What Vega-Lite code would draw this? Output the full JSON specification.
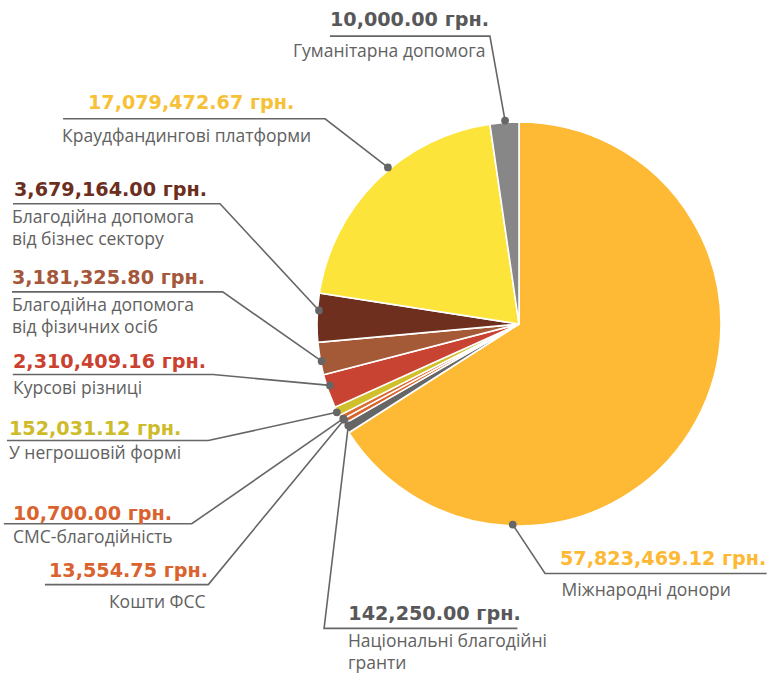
{
  "$schema": "https://vega.github.io/schema/vega-lite/v6.json",
  "width": 404,
  "height": 404,
  "autosize": {"type": "none"},
  "padding": {"left": 317, "top": 122, "right": 48, "bottom": 147},
  "background": "white",
  "config": {"view": {"stroke": null}},
  "datasets": {
    "slices": [
      {"name": "Міжнародні донори", "share": 65.95, "idx": 1},
      {"name": "Національні благодійні гранти", "share": 0.8, "idx": 2},
      {"name": "Кошти ФСС", "share": 0.38, "idx": 3},
      {"name": "СМС-благодійність", "share": 0.38, "idx": 4},
      {"name": "У негрошовій формі", "share": 0.74, "idx": 5},
      {"name": "Курсові різниці", "share": 2.70, "idx": 6},
      {"name": "Благодійна допомога від фізичних осіб", "share": 2.60, "idx": 7},
      {"name": "Благодійна допомога від бізнес сектору", "share": 3.90, "idx": 8},
      {"name": "Краудфандингові платформи", "share": 20.25, "idx": 9},
      {"name": "Гуманітарна допомога", "share": 2.30, "idx": 10}
    ],
    "callouts": [
      {"name": "Гуманітарна допомога", "amount": "10,000.00 грн.", "category": "Гуманітарна допомога", "vx": -0.936, "vy": 1.473, "cx": -1.119, "cy": 1.322},
      {"name": "Краудфандингові платформи", "amount": "17,079,472.67 грн.", "category": "Краудфандингові платформи", "vx": -2.134, "vy": 1.062, "cx": -2.262, "cy": 0.901},
      {"name": "Благодійна допомога від бізнес сектору", "amount": "3,679,164.00 грн.", "category": "Благодійна допомога\nвід бізнес сектору", "vx": -2.5, "vy": 0.633, "cx": -2.51, "cy": 0.498},
      {"name": "Благодійна допомога від фізичних осіб", "amount": "3,181,325.80 грн.", "category": "Благодійна допомога\nвід фізичних осіб", "vx": -2.51, "vy": 0.196, "cx": -2.51, "cy": 0.063},
      {"name": "Курсові різниці", "amount": "2,310,409.16 грн.", "category": "Курсові різниці", "vx": -2.505, "vy": -0.22, "cx": -2.505, "cy": -0.349},
      {"name": "У негрошовій формі", "amount": "152,031.12 грн.", "category": "У негрошовій формі", "vx": -2.525, "vy": -0.55, "cx": -2.525, "cy": -0.666},
      {"name": "СМС-благодійність", "amount": "10,700.00 грн.", "category": "СМС-благодійність", "vx": -2.505, "vy": -0.968, "cx": -2.505, "cy": -1.083},
      {"name": "Кошти ФСС", "amount": "13,554.75 грн.", "category": "Кошти ФСС", "vx": -2.327, "vy": -1.25, "cx": -2.03, "cy": -1.405},
      {"name": "Національні благодійні гранти", "amount": "142,250.00 грн.", "category": "Національні благодійні\nгранти", "vx": -0.845, "vy": -1.466, "cx": -0.847, "cy": -1.601},
      {"name": "Міжнародні донори", "amount": "57,823,469.12 грн.", "category": "Міжнародні донори", "vx": 0.203, "vy": -1.191, "cx": 0.211, "cy": -1.348}
    ],
    "leaders": [
      {"name": "Гуманітарна допомога", "seq": 1, "u": -0.936, "v": 1.425},
      {"name": "Гуманітарна допомога", "seq": 2, "u": -0.144, "v": 1.425},
      {"name": "Гуманітарна допомога", "seq": 3, "u": -0.069, "v": 1.007},
      {"name": "Краудфандингові платформи", "seq": 1, "u": -2.257, "v": 1.016},
      {"name": "Краудфандингові платформи", "seq": 2, "u": -0.96, "v": 1.016},
      {"name": "Краудфандингові платформи", "seq": 3, "u": -0.649, "v": 0.775},
      {"name": "Благодійна допомога від бізнес сектору", "seq": 1, "u": -2.505, "v": 0.595},
      {"name": "Благодійна допомога від бізнес сектору", "seq": 2, "u": -1.48, "v": 0.595},
      {"name": "Благодійна допомога від бізнес сектору", "seq": 3, "u": -0.99, "v": 0.067},
      {"name": "Благодійна допомога від фізичних осіб", "seq": 1, "u": -2.51, "v": 0.159},
      {"name": "Благодійна допомога від фізичних осіб", "seq": 2, "u": -1.467, "v": 0.159},
      {"name": "Благодійна допомога від фізичних осіб", "seq": 3, "u": -0.977, "v": -0.184},
      {"name": "Курсові різниці", "seq": 1, "u": -2.506, "v": -0.25},
      {"name": "Курсові різниці", "seq": 2, "u": -1.515, "v": -0.25},
      {"name": "Курсові різниці", "seq": 3, "u": -0.936, "v": -0.304},
      {"name": "У негрошовій формі", "seq": 1, "u": -2.535, "v": -0.577},
      {"name": "У негрошовій формі", "seq": 2, "u": -1.538, "v": -0.577},
      {"name": "У негрошовій формі", "seq": 3, "u": -0.902, "v": -0.437},
      {"name": "СМС-благодійність", "seq": 1, "u": -2.55, "v": -0.989},
      {"name": "СМС-благодійність", "seq": 2, "u": -1.62, "v": -0.989},
      {"name": "СМС-благодійність", "seq": 3, "u": -0.87, "v": -0.468},
      {"name": "Кошти ФСС", "seq": 1, "u": -2.347, "v": -1.29},
      {"name": "Кошти ФСС", "seq": 2, "u": -1.538, "v": -1.29},
      {"name": "Кошти ФСС", "seq": 3, "u": -0.866, "v": -0.474},
      {"name": "Національні благодійні гранти", "seq": 1, "u": -0.008, "v": -1.507},
      {"name": "Національні благодійні гранти", "seq": 2, "u": -0.965, "v": -1.507},
      {"name": "Національні благодійні гранти", "seq": 3, "u": -0.845, "v": -0.502},
      {"name": "Міжнародні донори", "seq": 1, "u": 1.226, "v": -1.235},
      {"name": "Міжнародні донори", "seq": 2, "u": 0.129, "v": -1.235},
      {"name": "Міжнародні донори", "seq": 3, "u": -0.031, "v": -0.993}
    ]
  },
  "layer": [
    {
      "data": {"name": "slices"},
      "mark": {"type": "arc", "stroke": "white", "strokeWidth": 1.6},
      "encoding": {
        "theta": {"field": "share", "type": "quantitative", "stack": true},
        "order": {"field": "idx", "type": "quantitative"},
        "color": {
          "field": "name", "type": "nominal", "legend": null,
          "scale": {
            "domain": ["Міжнародні донори", "Національні благодійні гранти", "Кошти ФСС", "СМС-благодійність", "У негрошовій формі", "Курсові різниці", "Благодійна допомога від фізичних осіб", "Благодійна допомога від бізнес сектору", "Краудфандингові платформи", "Гуманітарна допомога"],
            "range": ["#FEB935", "#666666", "#D9622B", "#DA6A2E", "#D0C12C", "#C94332", "#A55A37", "#6E2F1F", "#FDE43A", "#878787"]
          }
        }
      }
    },
    {
      "data": {"name": "leaders"},
      "mark": {"type": "line", "color": "#666666", "strokeWidth": 1.6},
      "encoding": {
        "x": {"field": "u", "type": "quantitative", "scale": {"domain": [-1, 1], "nice": false, "zero": false}, "axis": null},
        "y": {"field": "v", "type": "quantitative", "scale": {"domain": [-1, 1], "nice": false, "zero": false}, "axis": null},
        "detail": {"field": "name"},
        "order": {"field": "seq", "type": "quantitative"}
      }
    },
    {
      "data": {"name": "leaders"},
      "transform": [{"filter": "datum.seq == 3"}],
      "mark": {"type": "point", "filled": true, "color": "#666666", "size": 60, "opacity": 1},
      "encoding": {
        "x": {"field": "u", "type": "quantitative"},
        "y": {"field": "v", "type": "quantitative"}
      }
    },
    {
      "data": {"name": "callouts"},
      "mark": {"type": "text", "align": "left", "baseline": "alphabetic", "font": "DejaVu Sans", "fontWeight": "bold", "fontSize": 19.2},
      "encoding": {
        "x": {"field": "vx", "type": "quantitative"},
        "y": {"field": "vy", "type": "quantitative"},
        "text": {"field": "amount"},
        "fill": {
          "field": "name", "type": "nominal", "legend": null,
          "scale": {
            "domain": ["Міжнародні донори", "Національні благодійні гранти", "Кошти ФСС", "СМС-благодійність", "У негрошовій формі", "Курсові різниці", "Благодійна допомога від фізичних осіб", "Благодійна допомога від бізнес сектору", "Краудфандингові платформи", "Гуманітарна допомога"],
            "range": ["#FDB933", "#58585A", "#D9622E", "#D9622E", "#CDBB2A", "#CB4130", "#A4573A", "#6C2E1D", "#F7C137", "#58585A"]
          }
        }
      }
    },
    {
      "data": {"name": "callouts"},
      "mark": {"type": "text", "align": "left", "baseline": "alphabetic", "font": "Open Sans", "fontSize": 17.5, "color": "#616161", "lineBreak": "\n", "lineHeight": 22},
      "encoding": {
        "x": {"field": "cx", "type": "quantitative"},
        "y": {"field": "cy", "type": "quantitative"},
        "text": {"field": "category"}
      }
    }
  ]
}
